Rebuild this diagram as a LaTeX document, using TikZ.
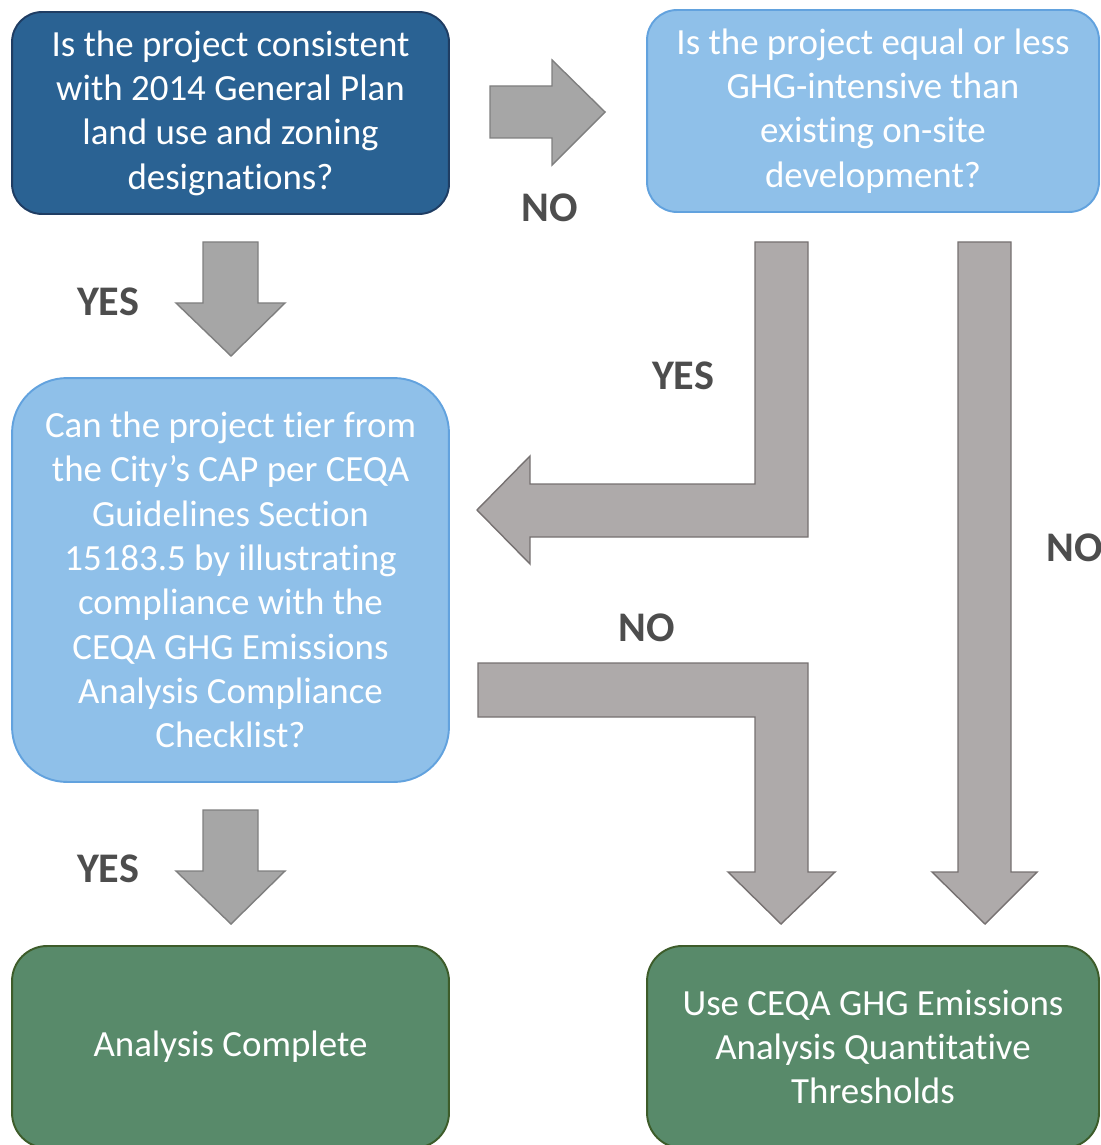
\documentclass[tikz,border=0pt]{standalone}
\usepackage{fontspec}
\setmainfont{Carlito}[Ligatures=NoCommon]
\usetikzlibrary{positioning}
\usetikzlibrary{calc}

\definecolor{darkblue}{HTML}{2A6293}
\definecolor{darkblueline}{HTML}{1F3D63}
\definecolor{lightblue}{HTML}{8FC0E9}
\definecolor{lightblueline}{HTML}{62A2DE}
\definecolor{darkgreen}{HTML}{588A6A}
\definecolor{darkgreenline}{HTML}{3D5C2A}
\definecolor{arrowgrey}{HTML}{A6A6A6}
\definecolor{arrowgreyline}{HTML}{7F7F7F}
\definecolor{bentgrey}{HTML}{AEAAAA}
\definecolor{bentgreyline}{HTML}{767171}
\definecolor{labelgrey}{HTML}{4D4D4D}

\begin{document}
\begin{tikzpicture}[x=0.02cm,y=-0.02cm]

\tikzstyle{box} = [rectangle, draw, line width=1.1pt, text=white, align=center, inner sep=0pt,
    minimum width=8.74cm, minimum height=4.04cm, font=\fontsize{21}{25.2}\selectfont]
\tikzstyle{widebox} = [box, minimum width=9.04cm]
\tikzstyle{answer} = [text=labelgrey, font=\fontsize{24}{29}\selectfont\bfseries, inner sep=0pt]
\tikzstyle{straight} = [fill=arrowgrey, draw=arrowgreyline, line width=0.8pt]
\tikzstyle{bent} = [fill=bentgrey, draw=bentgreyline, line width=0.8pt]

\useasboundingbox (0,0) rectangle (1101,1145);

% question boxes
\node[box, rounded corners=0.6cm, fill=darkblue, draw=darkblueline] at (230.5,113) (consistent)
    {Is the project consistent\\with 2014 General Plan\\land use and zoning\\designations?};
\node[widebox, rounded corners=0.6cm, fill=lightblue, draw=lightblueline] at (873,111) (intensive)
    {Is the project equal or less\\GHG-intensive than\\existing on-site\\development?};
\node[box, rounded corners=1.1cm, minimum height=8.08cm, fill=lightblue, draw=lightblueline] at (230.5,580) (tier)
    {Can the project tier from\\the City’s CAP per CEQA\\Guidelines Section\\15183.5 by illustrating\\compliance with the\\CEQA GHG Emissions\\Analysis Compliance\\Checklist?};

% result boxes
\node[box, rounded corners=0.7cm, fill=darkgreen, draw=darkgreenline] at (230.5,1047) (complete)
    {Analysis Complete};
\node[widebox, rounded corners=0.7cm, fill=darkgreen, draw=darkgreenline] at (873,1047) (thresholds)
    {Use CEQA GHG Emissions\\Analysis Quantitative\\Thresholds};

% block arrows
\draw[straight] (490,86) -- (552,86) -- (552,60) -- (605,112) -- (552,165) -- (552,138) -- (490,138) -- cycle;
\foreach \y in {242,810} {
    \draw[straight] (203,\y) -- (258,\y) -- (258,\y+61) -- (285,\y+61) -- (231,\y+114)
        -- (176,\y+61) -- (203,\y+61) -- cycle;
}
\draw[bent] (755,242) -- (808,242) -- (808,537) -- (530,537) -- (530,564) -- (477,510)
    -- (530,456) -- (530,484) -- (755,484) -- cycle;
\draw[bent] (958,242) -- (1011,242) -- (1011,872) -- (1037,872) -- (985,924) -- (932,872)
    -- (958,872) -- cycle;
\draw[bent] (478,663) -- (808,663) -- (808,872) -- (835,872) -- (781,924) -- (728,872)
    -- (755,872) -- (755,717) -- (478,717) -- cycle;

% answers
\foreach \x/\y/\t/\n in {550/208/NO/noA, 108/302/YES/yesA, 683/376/YES/yesB,
                         1075/548/NO/noB, 647/628/NO/noC, 108/869/YES/yesC} {
    \node[answer] at (\x,\y) (\n) {\t};
}

\end{tikzpicture}
\end{document}
